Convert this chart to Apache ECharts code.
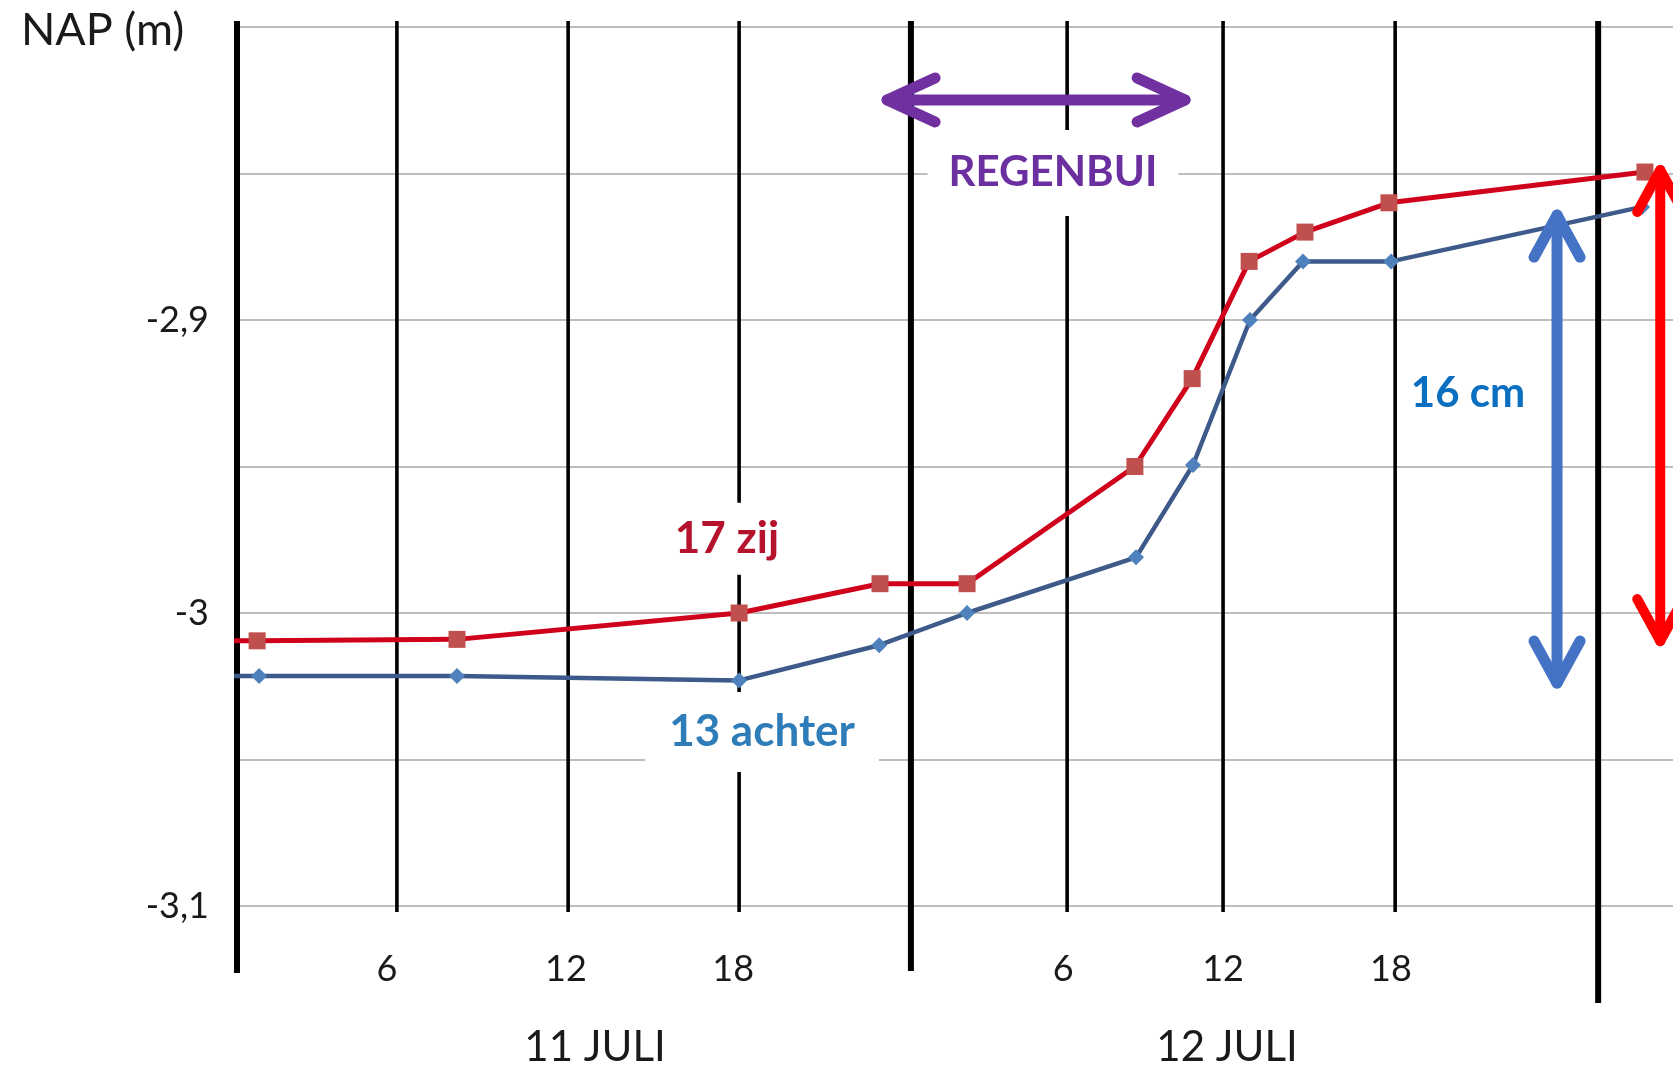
<!DOCTYPE html>
<html><head><meta charset="utf-8">
<script src="https://cdn.jsdelivr.net/npm/echarts@6/dist/echarts.min.js"></script>
<style>html,body{margin:0;padding:0;background:#fff}#c{width:1673px;height:1068px}</style>
</head><body><div id="c"></div>
<script>
// ---------- data (hours since 11 juli 00:00, NAP in m) ----------
const hours17 = [-0.5, 0.71, 7.76, 17.71, 22.68, 25.75, 31.67, 33.69, 35.70, 37.67, 40.63, 49.66];
const nap17   = [-3.0095, -3.0095, -3.009, -3.0, -2.99, -2.99, -2.95, -2.92, -2.88, -2.87, -2.86, -2.8495];
const hours13 = [-0.5, 0.78, 7.76, 17.71, 22.65, 25.75, 31.71, 33.72, 35.73, 37.60, 40.71, 49.56];
const nap13   = [-3.0215, -3.0215, -3.0215, -3.023, -3.011, -3.0, -2.981, -2.9495, -2.90, -2.88, -2.88, -2.8614];
const seriesNames = ['17 zij', '13 achter'];

// hand drawn hour lines, hour labels and day labels
const hourLines      = [0, 5.64, 11.68, 17.71, 23.77, 29.28, 34.78, 40.85, 48.01];
const hourLabelPos   = [5.29, 11.6, 17.5, 29.14, 34.78, 40.7];
const hourLabels     = ['6', '12', '18', '6', '12', '18'];
const dayLabelHours  = [12.63, 34.92];
const dayLabels      = ['11 JULI', '12 JULI'];
const yLabelValues   = [-3.1, -3.0, -2.9];

// annotations (data units)
const rainArrow   = [22.93, -2.8249, 33.44, -2.8249];
const blueArrow   = [46.56, -2.8642, 46.56, -3.0239];
const redArrow    = [50.2, -2.8488, 50.2, -3.0096];
const noteTexts   = ['REGENBUI', '17 zij', '13 achter', '16 cm'];
const noteX       = [28.78, 17.28, 18.52, 43.42];
const noteY       = [-2.8498, -2.9747, -3.0406, -2.9249];

// ---------- styles ----------
const thickIdx = [0, 4, 8];
const lineBottomExt = [67, 6, 6, 6, 65, 6, 6, 6, 97];
const noteColors = ['#6B2FA0', '#B5122E', '#2E7DB8', '#0A6FC0'];
const notePad = [[22, 21], [14, 12], [18, 24], [6, 6]];
const arrowColors = ['#7030A0', '#4472C4', '#FF0000'];
const FONT = 'Lato, "Open Sans", sans-serif';

const chart = echarts.init(document.getElementById('c'), null, {renderer: 'canvas'});

function fmtY(v) {
  const r = Math.round(v * 100) / 100;
  for (const t of yLabelValues) if (Math.abs(r - t) < 1e-6) return String(t).replace('.', ',');
  return '';
}
function lookup(vals, labels) {
  return v => { const i = vals.findIndex(h => Math.abs(h - v) < 1e-6); return i >= 0 ? labels[i] : ''; };
}

const option = {
  animation: false,
  backgroundColor: '#fff',
  title: {text: 'NAP (m)', left: 16, top: 3,
    textStyle: {fontFamily: FONT, fontSize: 45, fontWeight: 'normal', color: '#1a1a1a'}},
  grid: {left: 237, right: 0, top: 27, bottom: 162, containLabel: false},
  xAxis: [{
    type: 'value', min: 0, max: 50.65,
    axisLine: {show: false}, axisTick: {show: false}, splitLine: {show: false},
    axisLabel: {
      customValues: hourLabelPos,
      formatter: lookup(hourLabelPos, hourLabels),
      fontFamily: FONT, fontSize: 36, color: '#1a1a1a', margin: 45
    }
  }, {
    type: 'value', min: 0, max: 50.65, position: 'bottom', gridIndex: 0,
    axisLine: {show: false}, axisTick: {show: false}, splitLine: {show: false},
    axisLabel: {
      customValues: dayLabelHours,
      formatter: lookup(dayLabelHours, dayLabels),
      fontFamily: FONT, fontSize: 42, color: '#1a1a1a', margin: 120
    }
  }],
  yAxis: {
    type: 'value', min: -3.1, max: -2.8, interval: 0.05,
    axisLine: {show: false}, axisTick: {show: false},
    splitLine: {show: true, lineStyle: {color: '#a8a8a8', width: 1.6}},
    axisLabel: {formatter: fmtY, fontFamily: FONT, fontSize: 36, color: '#1a1a1a', margin: 28,
      showMinLabel: true, showMaxLabel: true}
  },
  series: [
    {
      type: 'custom', name: 'uurlijnen', z: 1, silent: true, clip: false,
      encode: {x: 0, y: 1},
      data: hourLines.map(h => [h, -2.8]),
      renderItem: (params, api) => {
        const i = params.dataIndex;
        const cs = params.coordSys;
        const x = api.coord([api.value(0), -2.8])[0];
        const thick = thickIdx.includes(i);
        return {type: 'line', shape: {x1: x, y1: cs.y - 6, x2: x, y2: cs.y + cs.height + lineBottomExt[i]},
          style: {stroke: '#000', lineWidth: thick ? 6 : 3.6}};
      }
    },
    {
      type: 'line', name: seriesNames[1], z: 2, clip: true,
      data: hours13.map((h, i) => [h, nap13[i]]),
      symbol: 'diamond', symbolSize: 16, showAllSymbol: true,
      lineStyle: {color: '#3E5A8A', width: 4.5},
      itemStyle: {color: '#4F81BD'}
    },
    {
      type: 'line', name: seriesNames[0], z: 3, clip: true,
      data: hours17.map((h, i) => [h, nap17[i]]),
      symbol: 'rect', symbolSize: 17, showAllSymbol: true,
      lineStyle: {color: '#D0021B', width: 5},
      itemStyle: {color: '#C0504D'}
    },
    {
      type: 'custom', name: 'teksten', z: 4, silent: true, clip: false,
      encode: {x: 0, y: 1},
      data: noteX.map((x, i) => [x, noteY[i]]),
      renderItem: (params, api) => {
        const i = params.dataIndex;
        const p = api.coord([api.value(0), api.value(1)]);
        return {type: 'text', x: p[0], y: p[1],
          style: {text: noteTexts[i], fill: noteColors[i], font: 'bold ' + (i === 0 || i === 3 ? 42 : 44) + 'px ' + FONT,
            align: 'center', verticalAlign: 'middle', backgroundColor: '#fff', padding: notePad[i]}};
      }
    },
    {
      type: 'custom', name: 'pijlen', z: 5, silent: true, clip: false,
      encode: {x: [0, 2], y: [1, 3]},
      data: [rainArrow, blueArrow, redArrow],
      renderItem: (params, api) => {
        const i = params.dataIndex;
        const p1 = api.coord([api.value(0), api.value(1)]);
        const p2 = api.coord([api.value(2), api.value(3)]);
        const dx = p2[0] - p1[0], dy = p2[1] - p1[1];
        const len = Math.sqrt(dx * dx + dy * dy);
        const ux = dx / len, uy = dy / len, nx = -uy, ny = ux;
        const L = i === 0 ? 48 : 42, W = i === 0 ? 22 : 23;
        const st = {stroke: arrowColors[i], lineWidth: i === 2 ? 10 : 11, lineCap: 'round', lineJoin: 'round', fill: null};
        const head = (t, s) => [[t[0] + s * ux * L + nx * W, t[1] + s * uy * L + ny * W], t, [t[0] + s * ux * L - nx * W, t[1] + s * uy * L - ny * W]];
        return {type: 'group', children: [
          {type: 'line', shape: {x1: p1[0], y1: p1[1], x2: p2[0], y2: p2[1]}, style: st},
          {type: 'polyline', shape: {points: head(p1, 1)}, style: st},
          {type: 'polyline', shape: {points: head(p2, -1)}, style: st}
        ]};
      }
    }
  ]
};
chart.setOption(option);
</script>
</body></html>
